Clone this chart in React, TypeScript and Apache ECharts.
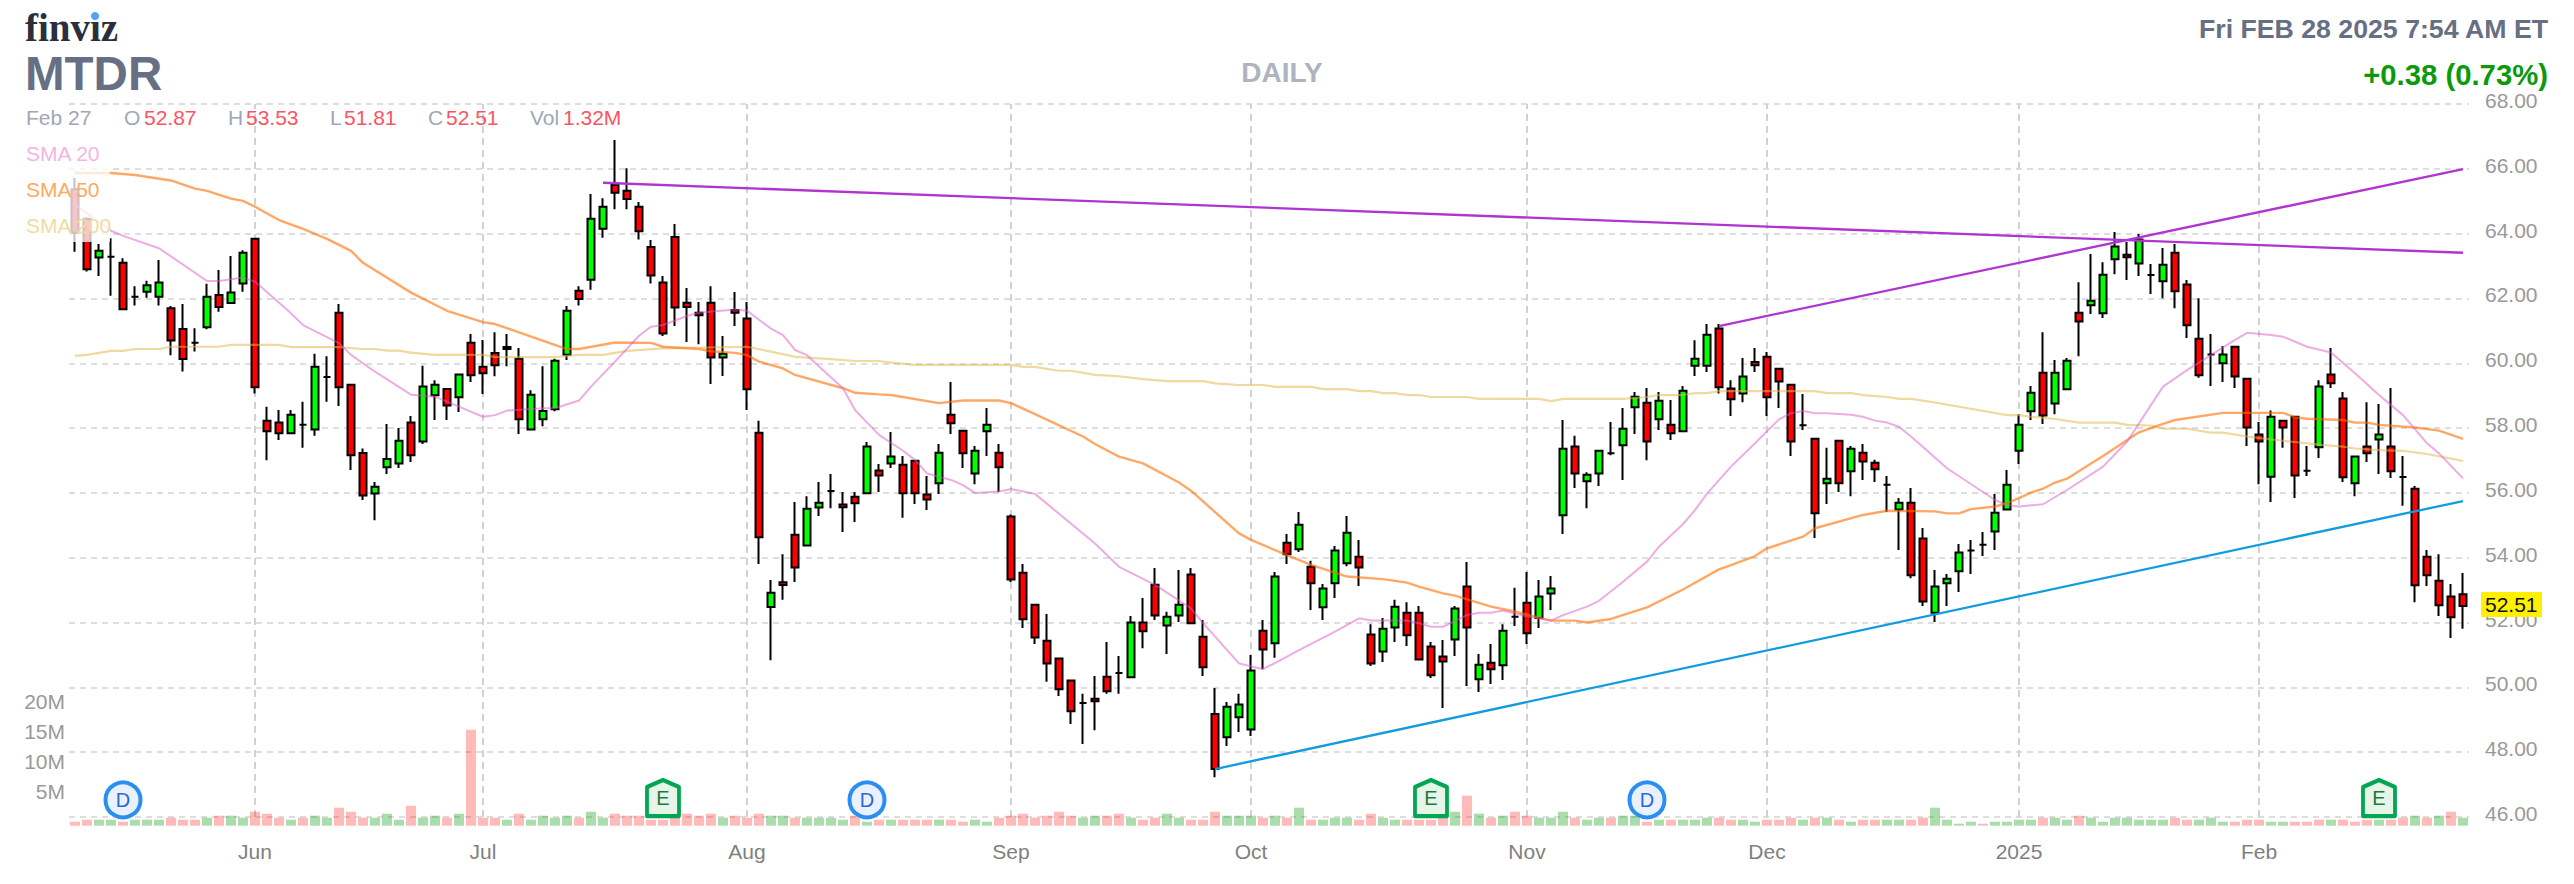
import React, { useEffect, useRef } from "react";
import * as echarts from "echarts";

const monthTicks: [number, string][] = [[15, "Jun"], [34, "Jul"], [56, "Aug"], [78, "Sep"], [98, "Oct"], [121, "Nov"], [141, "Dec"], [162, "2025"], [182, "Feb"]];
const priceMin = 46;
const priceMax = 68;

const opens = [
  65.37,64.46,63.26,63.29,63.10,62.05,62.21,62.05,61.70,61.06,
  60.63,61.11,62.11,61.86,62.46,63.84,58.23,58.17,57.84,58.10,
  57.96,59.58,61.56,59.34,57.23,55.98,56.79,56.91,58.17,57.59,
  59.01,59.21,58.95,60.63,59.89,60.32,60.50,60.14,57.96,58.27,
  58.58,60.26,62.24,62.58,64.15,65.50,65.32,64.83,63.59,62.49,
  63.90,61.87,61.56,61.87,60.18,61.64,61.38,57.86,52.48,53.24,
  54.71,54.38,55.55,56.06,55.64,55.88,55.99,56.69,56.91,56.87,
  56.99,55.95,56.30,58.41,57.92,56.60,57.90,57.24,55.27,53.54,
  52.55,51.44,50.89,50.21,49.52,49.65,50.33,50.44,50.31,52.00,
  53.17,51.91,52.22,53.48,51.56,49.18,48.46,49.08,48.70,51.75,
  51.36,54.46,54.26,53.72,52.47,53.21,53.83,54.03,51.63,51.11,
  51.85,52.30,52.30,51.26,50.95,51.48,53.11,50.25,50.76,50.68,
  52.18,52.61,52.14,52.90,55.31,57.43,56.36,56.60,57.22,57.47,
  58.64,58.78,58.27,58.10,57.90,59.92,59.92,61.07,59.22,59.07,
  60.04,60.20,59.83,59.34,58.09,57.67,56.30,57.61,56.67,57.24,
  56.93,56.25,55.49,55.70,54.59,52.30,53.21,53.58,54.22,54.40,
  54.81,55.49,57.30,58.52,59.71,58.76,59.20,61.56,61.79,61.54,
  63.21,63.35,63.08,62.72,62.53,63.41,62.43,60.76,60.27,60.00,
  60.51,59.52,57.80,56.50,58.23,58.35,56.68,57.41,59.65,58.91,
  56.30,57.43,57.65,57.43,56.49,56.13,54.03,53.29,52.80,52.87,
];
const closes = [
  64.03,62.90,63.47,63.29,61.67,62.05,62.41,62.49,60.70,60.13,
  60.63,62.05,61.74,62.18,63.41,59.26,57.90,57.84,58.41,58.10,
  59.89,59.58,59.26,57.16,55.92,56.19,57.05,57.61,57.16,59.28,
  59.34,58.70,59.65,59.63,59.69,59.94,60.44,58.27,59.03,58.53,
  60.08,61.62,61.98,64.46,64.83,65.26,65.07,64.07,62.71,60.92,
  61.72,61.74,61.48,60.18,60.29,61.56,59.20,54.63,52.92,53.16,
  53.70,55.51,55.70,56.06,55.56,55.68,57.43,56.54,57.12,55.99,
  55.99,55.80,57.24,58.15,57.22,57.30,58.10,56.79,53.33,52.10,
  51.54,50.74,49.94,49.26,49.52,49.57,49.88,50.44,52.00,51.73,
  52.22,52.18,52.55,51.98,50.62,47.48,49.40,49.47,50.52,51.17,
  53.42,54.11,55.02,53.21,53.05,54.22,54.77,53.70,50.74,51.81,
  52.49,51.61,50.86,50.37,50.80,52.43,51.85,50.70,50.56,51.75,
  52.18,51.67,52.80,53.05,57.36,56.60,56.56,57.30,57.22,57.98,
  58.97,57.59,58.84,57.84,59.15,60.14,60.88,59.26,58.89,59.59,
  59.94,58.95,59.44,57.59,58.09,55.37,56.44,56.30,57.36,56.97,
  56.73,56.25,55.70,53.46,52.65,53.11,53.35,54.16,54.22,54.40,
  55.39,56.25,58.10,59.09,58.39,59.71,60.08,61.29,61.93,62.73,
  63.60,63.27,63.82,62.72,63.04,62.22,61.17,59.63,60.27,60.27,
  59.59,58.02,57.59,58.35,58.02,56.54,56.68,59.28,59.38,56.48,
  57.12,57.22,57.80,56.67,56.49,53.15,53.46,52.53,52.16,52.51,
];
const lows = [
  63.44,62.83,62.69,62.08,61.65,61.78,62.02,61.78,60.25,59.75,
  60.36,61.05,61.59,61.86,62.21,59.07,57.01,57.63,57.84,57.39,
  57.76,58.81,58.68,56.71,55.78,55.16,56.58,56.77,56.95,57.51,
  58.25,58.25,58.50,59.42,59.05,59.60,59.91,57.82,57.96,58.06,
  58.52,60.10,61.78,62.27,63.87,64.75,64.75,63.82,62.46,60.84,
  61.15,60.66,60.59,59.36,59.61,61.15,58.56,53.81,50.84,52.70,
  53.25,54.38,55.29,55.53,54.79,55.10,55.99,56.03,56.77,55.23,
  55.66,55.47,55.97,57.82,56.77,56.27,57.14,56.03,53.25,51.83,
  51.34,50.17,49.73,48.87,48.25,48.68,49.80,49.80,50.31,51.21,
  52.08,51.03,52.02,51.98,50.35,47.23,48.19,48.62,48.50,50.56,
  50.91,53.81,54.18,52.39,52.08,52.76,53.74,53.13,50.66,50.78,
  51.40,51.28,50.86,50.29,49.36,50.97,50.04,49.86,50.10,50.23,
  51.89,51.34,51.83,52.39,54.73,56.15,55.53,56.21,57.16,56.40,
  57.82,57.01,57.94,57.63,57.90,59.61,59.73,59.07,58.37,58.80,
  59.73,58.37,58.62,57.14,57.94,54.61,55.66,56.03,55.90,56.40,
  56.34,55.41,54.24,53.37,52.51,52.02,52.51,52.94,53.50,54.05,
  54.24,55.49,56.89,58.25,58.13,58.43,59.20,60.22,61.52,61.40,
  62.75,62.57,62.69,62.14,62.01,61.70,60.78,59.55,59.30,59.42,
  59.24,57.45,56.27,55.72,57.39,55.84,56.52,57.08,59.24,56.34,
  55.90,56.95,56.58,56.46,55.60,52.63,53.13,52.20,51.52,51.81,
];
const highs = [
  65.72,64.50,63.68,63.86,63.24,62.38,62.55,63.19,61.77,61.83,
  61.08,62.45,62.88,63.31,63.49,63.84,58.66,58.56,58.56,58.81,
  60.29,60.22,61.83,59.34,57.37,56.34,58.13,58.00,58.37,59.92,
  59.48,59.21,59.65,60.90,60.72,60.96,60.90,60.47,59.17,59.91,
  60.14,61.77,62.38,65.22,65.09,66.89,66.02,64.98,63.80,62.69,
  64.30,62.32,61.89,62.38,60.84,62.20,61.89,58.23,53.31,54.11,
  55.72,55.90,56.34,56.58,56.03,56.03,57.57,56.89,57.88,57.14,
  56.99,56.52,57.51,59.42,57.92,57.45,58.62,57.51,55.33,53.81,
  52.55,52.26,50.89,50.21,49.80,50.35,51.40,50.97,52.20,52.76,
  53.68,52.33,53.62,53.68,52.08,49.98,49.55,49.80,51.00,52.08,
  53.56,54.73,55.41,53.91,53.19,54.36,55.29,54.55,51.95,52.14,
  52.70,52.63,52.51,51.40,51.46,52.51,53.87,51.03,51.34,51.95,
  53.07,53.56,53.31,53.44,58.25,57.76,56.64,57.30,58.19,58.62,
  59.11,59.24,59.11,58.87,59.30,60.71,61.21,61.21,59.48,60.16,
  60.47,60.35,59.83,59.34,59.05,57.67,57.39,57.61,57.45,57.51,
  57.02,56.52,55.84,56.15,54.92,53.62,53.50,54.42,54.55,54.79,
  55.97,56.71,58.43,59.30,60.96,60.10,60.16,62.50,63.37,63.12,
  64.05,63.74,63.99,63.06,63.56,63.68,62.57,62.01,60.90,60.53,
  60.51,59.52,58.19,58.54,58.23,58.35,57.45,59.48,60.47,59.11,
  57.12,58.80,58.74,59.24,57.14,56.21,54.24,54.11,53.19,53.53,
];

const volumes = [
  0.67,1.00,1.00,1.00,0.67,1.00,1.00,1.00,1.33,1.00,
  1.00,1.33,1.67,1.67,1.33,2.33,2.00,1.33,1.00,1.33,
  1.67,1.33,3.00,2.33,1.33,1.33,2.00,1.00,3.33,1.33,
  1.67,1.33,2.00,16.00,1.33,1.33,1.00,2.00,1.00,1.67,
  1.33,1.67,1.33,2.33,1.33,2.00,1.67,1.67,1.00,1.00,
  1.33,2.00,1.67,2.00,1.33,1.67,1.33,2.00,1.67,1.67,
  1.33,1.33,1.33,1.33,1.00,1.67,0.67,1.00,1.00,1.00,
  1.00,1.00,1.00,1.00,0.67,1.00,0.67,1.33,1.67,2.00,
  1.33,1.67,2.33,1.67,1.33,1.67,1.67,2.00,1.33,1.00,
  1.33,2.00,1.33,1.00,1.00,2.33,1.67,1.67,1.67,1.33,
  1.67,1.33,3.00,1.00,1.00,1.33,1.33,1.00,2.00,1.33,
  1.00,1.00,1.00,1.00,1.33,2.33,5.00,2.00,1.33,1.67,
  2.33,1.67,1.33,1.33,2.33,1.33,1.00,1.33,1.33,1.67,
  1.67,0.67,1.00,1.00,1.00,1.00,1.33,1.33,1.00,1.00,
  0.67,1.00,1.00,1.33,1.00,1.33,1.33,1.00,0.67,1.00,
  1.00,1.00,1.00,1.00,1.33,3.00,1.00,0.33,0.67,0.33,
  0.67,0.67,1.00,1.00,1.33,1.33,1.00,1.67,1.33,0.67,
  1.33,1.33,1.00,1.00,1.00,1.33,1.00,1.00,1.33,0.67,
  0.67,1.00,1.00,0.67,0.67,0.67,0.67,1.00,1.00,1.00,
  0.67,1.00,1.00,1.00,1.33,1.67,1.33,1.67,2.33,1.32,
];
const volumeUp = [
  0,0,1,1,0,1,1,1,0,0,
  0,1,0,1,1,0,0,0,1,0,
  1,1,0,0,0,1,1,1,0,1,
  1,0,1,0,0,0,1,0,1,1,
  1,1,0,1,1,0,0,0,0,0,
  0,0,0,0,1,0,0,0,1,1,
  0,1,1,1,1,0,1,0,1,0,
  0,0,1,0,0,1,1,0,0,0,
  0,0,0,0,1,1,0,0,1,0,
  0,1,1,0,0,0,1,1,1,0,
  1,0,1,0,1,1,1,0,0,1,
  1,0,0,0,0,1,0,1,0,1,
  0,0,1,1,1,0,1,1,0,1,
  1,0,1,0,1,1,1,0,0,1,
  1,0,0,0,1,0,1,0,1,0,
  0,1,1,0,0,1,1,1,1,0,
  1,1,1,1,0,1,1,0,1,1,
  1,1,1,1,1,0,0,1,1,1,
  0,0,0,1,1,0,0,0,1,0,
  0,0,1,0,0,1,0,1,0,1,
];

const sma20: [number, number][] = [
  [0,64.90],[3,64.09],[4,63.93],[7,63.55],[11,62.54],[12,62.54],[14,62.65],[15,62.52],[18,61.54],[19,61.18],[22,60.62],[23,60.26],[25,59.74],[28,59.03],[30,58.97],[32,58.66],[34,58.35],[35,58.40],[36,58.54],[39,58.61],[40,58.61],[42,58.85],[43,59.28],[45,60.05],[47,60.85],[48,61.13],[49,61.18],[51,61.46],[52,61.56],[55,61.66],[56,61.62],[58,61.07],[59,60.87],[60,60.41],[61,60.25],[62,59.90],[64,59.23],[65,58.56],[67,57.79],[69,57.30],[70,57.02],[71,56.60],[73,56.40],[74,56.24],[75,56.00],[77,56.04],[78,56.12],[80,55.97],[85,54.44],[87,53.72],[90,53.16],[93,52.44],[94,51.98],[97,50.74],[99,50.56],[101,50.95],[102,51.15],[105,51.72],[107,52.13],[108,52.06],[111,52.06],[112,51.98],[113,51.87],[114,51.87],[116,52.23],[117,52.30],[118,52.30],[119,52.37],[121,52.19],[123,52.06],[124,52.23],[126,52.49],[127,52.67],[129,53.26],[131,53.88],[132,54.34],[134,55.04],[135,55.47],[136,55.98],[138,56.81],[140,57.53],[142,58.27],[143,58.46],[144,58.53],[145,58.46],[146,58.46],[148,58.41],[149,58.35],[150,58.23],[151,58.17],[152,58.04],[153,57.74],[154,57.42],[156,56.76],[160,55.78],[161,55.63],[162,55.58],[164,55.65],[166,56.09],[169,56.81],[171,57.58],[174,59.28],[176,59.79],[178,60.25],[180,60.72],[181,60.94],[183,60.87],[184,60.82],[186,60.51],[188,60.33],[190,59.69],[192,59.02],[194,58.40],[196,57.53],[197,57.22],[199,56.45],
];
const sma50: [number, number][] = [
  [0,65.87],[3,65.87],[5,65.81],[8,65.64],[10,65.39],[11,65.32],[13,65.08],[14,65.01],[15,64.83],[17,64.42],[19,64.15],[21,63.84],[23,63.47],[24,63.10],[28,62.18],[31,61.62],[34,61.27],[35,61.21],[41,60.44],[42,60.44],[45,60.64],[48,60.63],[49,60.51],[52,60.44],[53,60.37],[55,60.32],[56,60.25],[57,60.05],[59,59.84],[60,59.64],[64,59.23],[65,59.09],[67,59.04],[68,59.02],[72,58.77],[74,58.85],[77,58.85],[78,58.77],[80,58.43],[84,57.74],[85,57.51],[87,57.12],[89,56.91],[92,56.32],[93,56.07],[97,54.75],[98,54.55],[101,54.08],[103,53.78],[106,53.42],[109,53.34],[111,53.23],[112,53.11],[114,52.90],[115,52.83],[118,52.49],[120,52.34],[123,52.06],[125,52.06],[126,52.00],[128,52.11],[131,52.47],[134,53.02],[137,53.64],[138,53.77],[140,54.05],[141,54.29],[144,54.65],[145,54.91],[149,55.32],[151,55.45],[155,55.43],[156,55.37],[157,55.37],[158,55.50],[160,55.58],[161,55.68],[163,56.01],[164,56.13],[165,56.32],[166,56.44],[168,56.91],[169,57.14],[172,57.87],[174,58.13],[175,58.25],[179,58.47],[184,58.47],[185,58.33],[186,58.29],[189,58.25],[190,58.17],[191,58.17],[192,58.10],[195,58.02],[197,57.92],[199,57.67],
];
const sma200: [number, number][] = [
  [0,60.23],[1,60.26],[3,60.38],[4,60.38],[5,60.44],[7,60.44],[8,60.51],[12,60.51],[13,60.57],[17,60.57],[18,60.50],[22,60.50],[24,60.44],[25,60.44],[26,60.39],[27,60.39],[28,60.33],[30,60.26],[34,60.26],[35,60.19],[40,60.19],[42,60.26],[44,60.26],[46,60.38],[49,60.46],[56,60.51],[58,60.36],[60,60.20],[63,60.13],[65,60.07],[67,60.07],[68,60.02],[70,59.95],[78,59.95],[79,59.89],[80,59.89],[82,59.77],[83,59.77],[85,59.64],[87,59.60],[89,59.51],[91,59.45],[94,59.45],[95,59.38],[97,59.33],[99,59.33],[100,59.27],[103,59.27],[104,59.20],[106,59.20],[107,59.14],[108,59.14],[109,59.08],[110,59.08],[111,59.02],[112,59.02],[113,58.96],[116,58.96],[117,58.90],[122,58.90],[123,58.83],[124,58.90],[129,58.90],[131,58.96],[132,59.02],[134,59.02],[135,59.08],[136,59.08],[137,59.14],[145,59.14],[146,59.08],[148,59.08],[149,59.02],[151,58.96],[152,58.90],[153,58.90],[155,58.79],[161,58.40],[162,58.40],[163,58.35],[165,58.28],[167,58.17],[170,58.17],[171,58.10],[173,58.08],[174,57.98],[176,57.98],[178,57.86],[179,57.86],[181,57.74],[183,57.65],[185,57.57],[187,57.49],[189,57.43],[190,57.37],[192,57.32],[194,57.30],[196,57.20],[199,56.99],
];
const resistanceLine: [number, number][] = [[44, 65.57], [199, 63.41]];
const channelLine: [number, number][] = [[137, 61.15], [199, 65.99]];
const supportLine: [number, number][] = [[95, 47.48], [199, 55.75]];

const dividendEvents = [4, 66, 131];
const earningsEvents = [49, 113, 192];
const eventLevel = 4.3;
const lastClose = "52.51";

const FONT = '"Liberation Sans", Arial, sans-serif';

function txt(text: string, x: number, y: number, size: number, fill: string, opts: any = {}) {
  return {
    type: "text",
    z: 110,
    silent: true,
    style: {
      text, x, y, fill,
      font: `${opts.weight ?? "normal"} ${size}px ${opts.family ?? FONT}`,
      align: opts.align ?? "left",
      verticalAlign: "middle",
    },
  };
}

export default function App() {
  const ref = useRef<HTMLDivElement>(null);
  useEffect(() => {
    const chart = echarts.init(ref.current!, undefined, { renderer: "svg" });
    const labels = opens.map((_, i) => monthTicks.find((m) => m[0] === i)?.[1] ?? "");
    const gridL = 69;
    const gridW = 2400;
    const lab = "#9fa6b8";
    const val = "#fb5561";
    chart.setOption({
      animation: false,
      backgroundColor: "#fff",
      grid: [
        { left: gridL, width: gridW, top: 104, height: 713 },
        { left: gridL, width: gridW, top: 705.7, height: 120 },
      ],
      xAxis: [
        {
          type: "category", gridIndex: 0, data: labels, boundaryGap: true,
          axisLine: { show: false }, axisTick: { show: false }, axisLabel: { show: false }, splitLine: { show: false },
        },
        {
          type: "category", gridIndex: 1, data: labels, boundaryGap: true,
          axisLine: { show: false }, axisTick: { show: false }, splitLine: { show: false },
          axisLabel: { interval: 0, color: "#808080", fontFamily: FONT, fontSize: 21, margin: 15 },
        },
      ],
      yAxis: [
        {
          type: "value", gridIndex: 0, position: "right", min: priceMin, max: priceMax, interval: 2,
          axisLine: { show: false }, axisTick: { show: false },
          axisLabel: {
            color: "#999999", fontFamily: FONT, fontSize: 21, margin: 16, align: "left",
            verticalAlign: "bottom", lineHeight: 7,
            formatter: (v: number) => v.toFixed(2),
          },
          splitLine: { show: true, lineStyle: { color: "#dedede", width: 2, type: [6, 5] } },
        },
        {
          type: "value", gridIndex: 1, position: "left", min: 0, max: 20, interval: 5,
          axisLine: { show: false }, axisTick: { show: false }, splitLine: { show: false },
          axisLabel: {
            color: "#999999", fontFamily: FONT, fontSize: 21, margin: 4, align: "right",
            verticalAlign: "bottom", lineHeight: 8,
            formatter: (v: number) => (v === 0 ? "" : `${v}M`),
          },
        },
      ],
      series: [
        {
          name: "Months", type: "line", xAxisIndex: 0, yAxisIndex: 0, data: [], z: 1, silent: true,
          markLine: {
            z: 1, silent: true, symbol: "none", animation: false, label: { show: false },
            lineStyle: { color: "#d2d2d2", width: 2, type: [7, 5] },
            data: monthTicks.map((m) => ({ xAxis: m[0] })),
          },
        },
        {
          name: "Volume", type: "bar", xAxisIndex: 1, yAxisIndex: 1, barWidth: 10, z: 2, silent: true,
          data: volumes.map((v, i) => ({
            value: v,
            itemStyle: { color: volumeUp[i] ? "rgba(0,150,0,0.33)" : "rgba(255,0,0,0.27)" },
          })),
        },
        {
          name: "MTDR", type: "candlestick", xAxisIndex: 0, yAxisIndex: 0, barWidth: 8, z: 3, silent: true,
          data: opens.map((o, i) => [o, closes[i], lows[i], highs[i]]),
          itemStyle: {
            color: "#00ff00", color0: "#ff0000", borderColor: "#000000", borderColor0: "#000000",
            borderColorDoji: "#000000", borderWidth: 2,
          },
        },
        ...[
          { name: "SMA 200", data: sma200, color: "rgba(225,185,80,0.55)", width: 2.2 },
          { name: "SMA 50", data: sma50, color: "rgba(255,110,0,0.6)", width: 2.4 },
          { name: "SMA 20", data: sma20, color: "rgba(222,90,200,0.5)", width: 2 },
          { name: "Trend A", data: resistanceLine, color: "#b035d0", width: 2.3 },
          { name: "Trend B", data: channelLine, color: "#b035d0", width: 2.3 },
          { name: "Trend C", data: supportLine, color: "#129ce0", width: 2.3 },
        ].map((s) => ({
          name: s.name, type: "line", xAxisIndex: 0, yAxisIndex: 0, data: s.data, z: 4,
          showSymbol: false, symbol: "none", silent: true, clip: false,
          lineStyle: { color: s.color, width: s.width },
        })),
        {
          name: "Dividends", type: "scatter", xAxisIndex: 1, yAxisIndex: 1, z: 5, silent: true,
          data: dividendEvents.map((k) => [k, eventLevel]),
          symbol: "circle", symbolSize: 35,
          itemStyle: { color: "#e8f1fd", borderColor: "#2a8ff0", borderWidth: 4, opacity: 1 },
          label: { show: true, position: "inside", formatter: "D", color: "#2f66d0", fontFamily: FONT, fontSize: 20 },
        },
        {
          name: "Earnings", type: "scatter", xAxisIndex: 1, yAxisIndex: 1, z: 5, silent: true,
          data: earningsEvents.map((k) => [k, eventLevel + 0.3]),
          symbol: "path://M0 7 L16 0 L32 7 V36 H0 Z", symbolSize: [32, 36],
          itemStyle: { color: "#e6f5e8", borderColor: "#00a651", borderWidth: 4, opacity: 1, borderJoin: "round" },
          label: { show: true, position: "inside", formatter: "E", color: "#1a7a3c", fontFamily: FONT, fontSize: 20 },
        },
      ],
      graphic: [
        { type: "rect", z: 100, silent: true, shape: { x: 0, y: 130, width: 110, height: 112 }, style: { fill: "rgba(255,255,255,0.76)" } },
        { type: "rect", z: 105, silent: true, shape: { x: 2481, y: 592, width: 61, height: 25 }, style: { fill: "#fff000" } },
        txt(lastClose, 2485, 604, 21, "#111111"),
        txt("finviz", 25, 27, 39, "#2b2f3b", { weight: "bold", family: '"Liberation Serif", serif' }),
        { type: "circle", z: 111, silent: true, shape: { cx: 95, cy: 16, r: 4 }, style: { fill: "#4ea5f5" } },
        txt("MTDR", 25, 73, 47.5, "#676f85", { weight: "bold" }),
        txt("DAILY", 1282, 72, 28, "#aeb3c0", { weight: "bold", align: "center" }),
        txt("Fri FEB 28 2025 7:54 AM ET", 2548, 29, 26.7, "#676f85", { weight: "bold", align: "right" }),
        txt("+0.38 (0.73%)", 2548, 74, 29.3, "#0a9a0a", { weight: "bold", align: "right" }),
        txt("Feb 27", 26, 117, 21, lab),
        txt("O", 124, 117, 21, lab), txt("52.87", 144, 117, 21, val),
        txt("H", 228, 117, 21, lab), txt("53.53", 246, 117, 21, val),
        txt("L", 330, 117, 21, lab), txt("51.81", 344, 117, 21, val),
        txt("C", 428, 117, 21, lab), txt("52.51", 446, 117, 21, val),
        txt("Vol", 530, 117, 21, lab), txt("1.32M", 563, 117, 21, val),
        txt("SMA 20", 26, 153, 21, "#f3b6e2"),
        txt("SMA 50", 26, 189, 21, "#ffa95e"),
        txt("SMA 200", 26, 225, 21, "#f0dca0"),
      ],
    });
    return () => chart.dispose();
  }, []);
  return <div ref={ref} style={{ position: "absolute", left: 0, top: 0, width: 2574, height: 884 }} />;
}
